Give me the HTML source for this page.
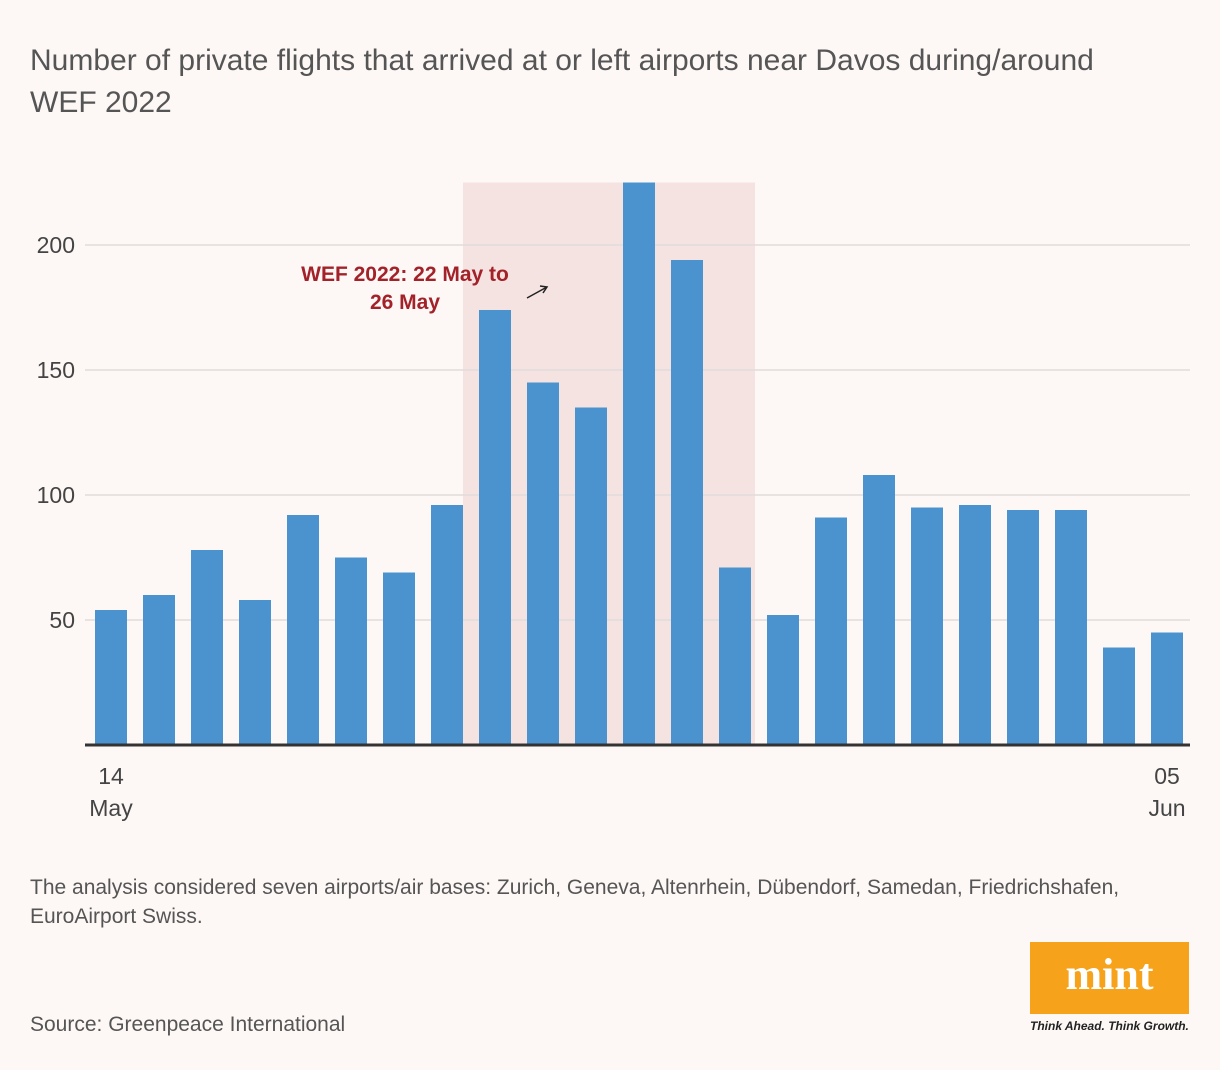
<!DOCTYPE html>
<html><head><meta charset="utf-8"><style>
body{margin:0;background:#fdf8f6;font-family:"Liberation Sans",sans-serif;}
#wrap{position:relative;width:1220px;height:1070px;overflow:hidden;background:#fdf8f6;}
.t{position:absolute;color:#4a4a4a;}
</style></head><body>
<div id="wrap">
<div class="t" style="left:30px;top:40px;width:1100px;font-size:30px;line-height:42px;color:#555;">Number of private flights that arrived at or left airports near Davos during/around WEF 2022</div>
<svg id="chart" width="1220" height="850" style="position:absolute;left:0;top:0"></svg>
<div class="t" style="left:30px;top:873px;width:1170px;font-size:21px;line-height:29px;color:#555;">The analysis considered seven airports/air bases: Zurich, Geneva, Altenrhein, Dübendorf, Samedan, Friedrichshafen, EuroAirport Swiss.</div>
<div class="t" style="left:30px;top:1013px;font-size:21px;color:#555;">Source: Greenpeace International</div>
<div style="position:absolute;left:1030px;top:942px;width:159px;height:72px;background:#f7a21b;color:#fff;font:bold 44px 'Liberation Serif',serif;text-align:center;line-height:66px;">mint</div>
<div class="t" style="left:1030px;top:1019px;font-size:12px;font-style:italic;font-weight:bold;color:#222;">Think Ahead. Think Growth.</div>
</div>
<script>
const categories=["14 May","15","16","17","18","19","20","21","22","23","24","25","26","27","28","29","30","31","01 Jun","02","03","04","05 Jun"];
const values=[54,60,78,58,92,75,69,96,174,145,135,225,194,71,52,91,108,95,96,94,94,39,45];
const ticks=[50,100,150,200];
const shadeStart=8, shadeEnd=13;
const NS="http://www.w3.org/2000/svg";
const svg=document.getElementById('chart');
const y=v=>745-v*2.5;
const x=i=>95+i*48;
const bw=32;
function mk(t,a){const e=document.createElementNS(NS,t);for(const k in a)e.setAttribute(k,a[k]);svg.appendChild(e);return e;}
let r=mk('rect',{x:x(shadeStart)-16,y:y(225),width:x(shadeEnd)+bw+4-(x(shadeStart)-16),height:y(0)-y(225),fill:'#f5e3e2'});


ticks.forEach(t=>{
 let l=mk('line',{x1:85,x2:1190,y1:y(t),y2:y(t),stroke:'#e2dcda','stroke-width':1.5});
 
 
 let tx=mk('text',{x:75,y:y(t)+8,'text-anchor':'end','font-size':23,fill:'#444','font-family':'Liberation Sans, sans-serif'});
 tx.textContent=t;
 
 
});
values.forEach((v,i)=>{
 let b=mk('rect',{x:x(i),y:y(v),width:bw,height:y(0)-y(v),fill:'#4a93cf'});
 
 
});
let base=mk('line',{x1:85,x2:1190,y1:745,y2:745,stroke:'#333','stroke-width':3});


function lab(txt,xx,yy,anchor,name){let t=mk('text',{x:xx,y:yy,'text-anchor':anchor,'font-size':23,fill:'#444','font-family':'Liberation Sans, sans-serif'});t.textContent=txt;}
lab('14',x(0)+16,784,'middle','x-tick-start-day');
lab('May',x(0)+16,816,'middle','x-tick-start-month');
lab('05',x(22)+16,784,'middle','x-tick-end-day');
lab('Jun',x(22)+16,816,'middle','x-tick-end-month');
let a1=mk('text',{x:405,y:281,'text-anchor':'middle','font-size':21,'font-weight':'bold',fill:'#a3222a','font-family':'Liberation Sans, sans-serif'});a1.textContent='WEF 2022: 22 May to';


let a2=mk('text',{x:405,y:309,'text-anchor':'middle','font-size':21,'font-weight':'bold',fill:'#a3222a','font-family':'Liberation Sans, sans-serif'});a2.textContent='26 May';


let ar=mk('path',{d:'M527 298 L547 287 M540 286 L547 287 L543 293',stroke:'#222','stroke-width':1.5,fill:'none'});


</script>
</body></html>
